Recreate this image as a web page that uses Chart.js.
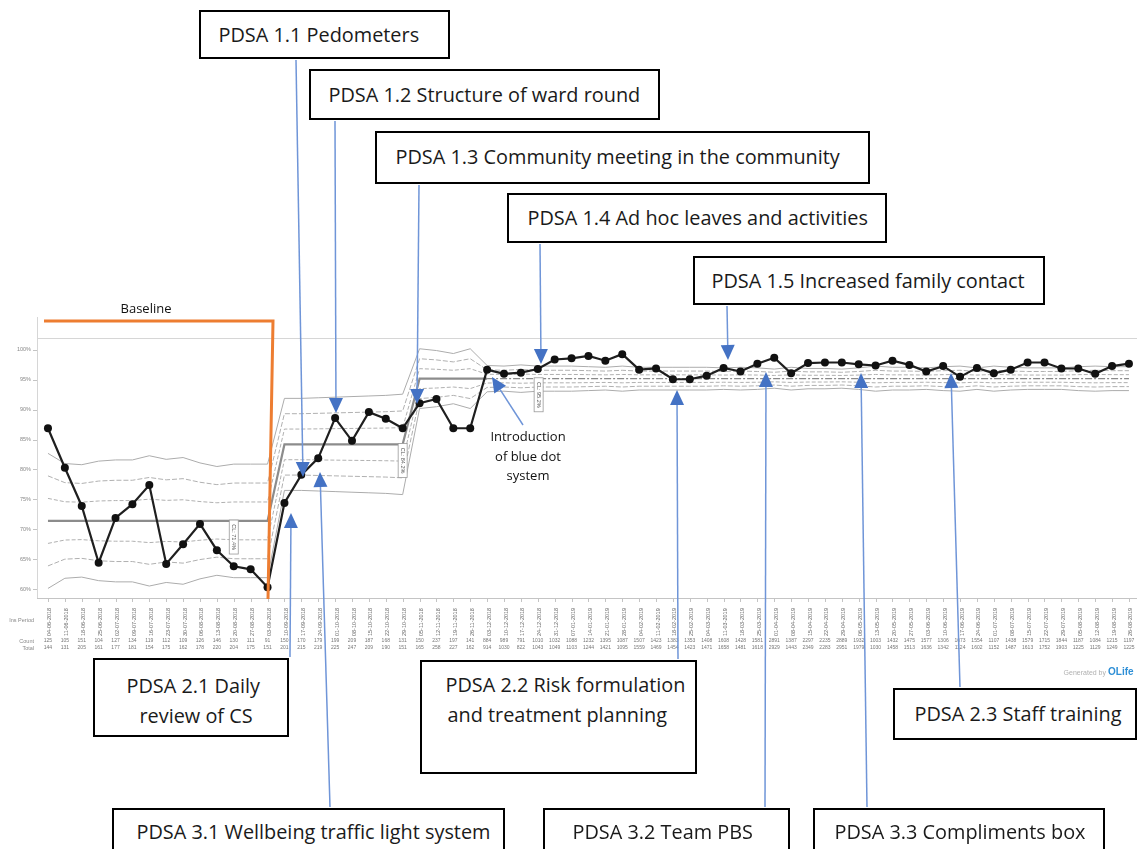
<!DOCTYPE html>
<html><head><meta charset="utf-8">
<script src="https://cdn.jsdelivr.net/npm/chart.js@4"></script>
<style>
html,body{margin:0;padding:0;background:#fff;}
#wrap{position:relative;width:1137px;height:849px;overflow:hidden;background:#fff;}
#c{position:absolute;left:0;top:0;}
.box{position:absolute;border:2.5px solid #000;background:#fff;box-sizing:border-box;}
.box span{position:absolute;white-space:nowrap;font-family:"Open Sans";font-size:18px;line-height:24px;color:#1a1a1a;}
</style></head>
<body><div id="wrap"><canvas id="c" width="1137" height="849"></canvas></div>
<script>
// ---------- data ----------
const periods = ["04-06-2018","11-06-2018","18-06-2018","25-06-2018","02-07-2018","09-07-2018","16-07-2018","23-07-2018","30-07-2018","06-08-2018","13-08-2018","20-08-2018","27-08-2018","03-09-2018","10-09-2018","17-09-2018","24-09-2018","01-10-2018","08-10-2018","15-10-2018","22-10-2018","29-10-2018","05-11-2018","12-11-2018","19-11-2018","26-11-2018","03-12-2018","10-12-2018","17-12-2018","24-12-2018","31-12-2018","07-01-2019","14-01-2019","21-01-2019","28-01-2019","04-02-2019","11-02-2019","18-02-2019","25-02-2019","04-03-2019","11-03-2019","18-03-2019","25-03-2019","01-04-2019","08-04-2019","15-04-2019","22-04-2019","29-04-2019","06-05-2019","13-05-2019","20-05-2019","27-05-2019","03-06-2019","10-06-2019","17-06-2019","24-06-2019","01-07-2019","08-07-2019","15-07-2019","22-07-2019","29-07-2019","05-08-2019","12-08-2019","19-08-2019","26-08-2019"];
const percent = [86.9,80.3,73.9,64.4,71.9,74.2,77.4,64.2,67.5,70.9,66.5,63.8,63.3,60.3,
  74.4,79.1,81.9,88.6,84.8,89.6,88.5,86.9,
  91.1,91.8,86.9,86.9,
  96.7,96.0,96.2,96.8,98.4,98.6,99.0,98.2,99.3,96.7,96.9,95.1,95.1,95.7,97.0,96.4,97.7,98.7,96.1,97.8,97.9,97.9,97.6,97.4,98.2,97.5,96.4,97.3,95.5,97.0,96.1,96.7,97.9,97.9,96.9,96.9,96.0,97.3,97.7];
const centreLine = [71.4,71.4,71.4,71.4,71.4,71.4,71.4,71.4,71.4,71.4,71.4,71.4,71.4,71.4,
  84.2,84.2,84.2,84.2,84.2,84.2,84.2,84.2,
  95.2,95.2,95.2,95.2,95.2,95.2,95.2,95.2,95.2,95.2,95.2,95.2,95.2,95.2,95.2,95.2,95.2,95.2,95.2,95.2,95.2,95.2,95.2,95.2,95.2,95.2,95.2,95.2,95.2,95.2,95.2,95.2,95.2,95.2,95.2,95.2,95.2,95.2,95.2,95.2,95.2,95.2,95.2];
const upperLimit = [82.7,81.0,80.8,81.4,81.6,81.6,82.3,81.7,82.0,81.1,80.5,80.9,80.9,80.9,
  91.9,91.9,92.0,92.1,92.2,92.3,92.4,92.6,
  100.2,99.9,99.4,100.2,
  97.4,97.3,97.5,97.3,97.3,97.3,97.2,97.1,97.3,97.1,97.1,97.1,97.1,97.1,97.0,97.1,97.0,96.8,97.1,96.9,96.9,96.8,97.0,97.3,97.1,97.1,97.0,97.2,97.3,97.0,97.3,97.1,97.0,97.0,97.0,97.2,97.3,97.2,97.2];
const counts = [125,105,151,104,127,134,119,112,109,126,146,130,111,91,150,170,179,199,209,187,168,131,150,237,197,141,884,989,791,1010,1032,1088,1232,1395,1087,1507,1423,1383,1353,1408,1608,1428,1581,2891,1387,2297,2235,2889,1932,1003,1432,1475,1577,1306,1073,1554,1107,1438,1579,1715,1844,1187,1084,1215,1197];
const totals = [144,131,205,161,177,181,154,175,162,178,220,204,175,151,201,215,219,225,247,209,190,151,165,258,227,162,914,1030,822,1043,1049,1103,1244,1421,1095,1559,1469,1454,1423,1471,1658,1481,1618,2929,1443,2349,2283,2951,1979,1030,1458,1513,1636,1342,1124,1602,1152,1487,1613,1752,1903,1225,1129,1249,1225];
const yTickValues = [60,65,70,75,80,85,90,95,100];
const clNotes = [{text:"CL: 71.4%", at:11, v:68.7},{text:"CL: 84.2%", at:21, v:81.5},{text:"CL: 95.2%", at:29.05, v:92.5}];
const narrowFrom = 26; // limits narrow where totals rise

// ---------- annotation boxes ----------
const boxes = [
  {l:199,t:10,w:251,h:49,lines:[["PDSA 1.1 Pedometers",219,35]]},
  {l:309,t:69,w:351,h:51,lines:[["PDSA 1.2 Structure of ward round",329,95]]},
  {l:375,t:131,w:495,h:53,lines:[["PDSA 1.3 Community meeting in the community",396,157]]},
  {l:507,t:193,w:380,h:50,lines:[["PDSA 1.4 Ad hoc leaves and activities",528,218]]},
  {l:693,t:256,w:352,h:49,lines:[["PDSA 1.5 Increased family contact",712,281]]},
  {l:93,t:658,w:196,h:79,lines:[["PDSA 2.1 Daily",127,686],["review of CS",140,716]]},
  {l:420,t:660,w:277,h:114,lines:[["PDSA 2.2 Risk formulation",446,685],["and treatment planning",448,715]]},
  {l:893,t:688,w:244,h:52,lines:[["PDSA 2.3 Staff training",915,714]]},
  {l:112,t:808,w:393,h:60,lines:[["PDSA 3.1 Wellbeing traffic light system",137,832]]},
  {l:543,t:808,w:247,h:60,lines:[["PDSA 3.2 Team PBS",573,832]]},
  {l:813,t:808,w:292,h:60,lines:[["PDSA 3.3 Compliments box",835,832]]}
];
const targetW = [198,307,442,338,314,138,240,208,355,189,248];
const wrap = document.getElementById('wrap');
const firstSpans = [];
boxes.forEach(b=>{
  const d=document.createElement('div');d.className='box';
  d.style.left=b.l+'px';d.style.top=b.t+'px';d.style.width=b.w+'px';d.style.height=b.h+'px';
  b.lines.forEach((ln,k)=>{
    const s=document.createElement('span');s.textContent=ln[0];
    s.style.left=(ln[1]-b.l-2.5)+'px';s.style.top=(ln[2]-b.t-2.5-12)+'px';
    d.appendChild(s); if(k===0) firstSpans.push(s);
  });
  wrap.appendChild(d);
});
let sumT=0,sumM=0;firstSpans.forEach((s,i)=>{sumT+=targetW[i];sumM+=s.getBoundingClientRect().width;});
const fs=(18*sumT/sumM).toFixed(2);
document.querySelectorAll('.box span').forEach(s=>s.style.fontSize=fs+'px');

// arrows [fromX, fromY, tipX, tipY]
const arrows = [[296,60,303,477],[335,121,336,413],[419,185,417,404],[540,244,541,364],[727,306,728,360],
  [290,657,291,513],[330,807,320,472],[678,659,677,390],[765,807,766,372],[867,807,861,373],[960,687,951,373],[523,425,492,377]];

const pts = a => a.map((v,i)=>({x:i,y:v}));
// sigma bands between the read centre line and read upper limit
const band = k => centreLine.map((c,i)=>({x:i,y:c+(upperLimit[i]-c)*k/3}));

const deco = {
  id:'deco',
  beforeDatasetsDraw(chart){
    const ctx=chart.ctx, xs=chart.scales.x, ys=chart.scales.y, a=chart.chartArea;
    ctx.save();
    ctx.strokeStyle='#d6d6d6';ctx.lineWidth=1;
    ctx.beginPath();ctx.moveTo(37,a.top+0.5);ctx.lineTo(1137,a.top+0.5);ctx.stroke();
    ctx.beginPath();ctx.moveTo(37.5,317);ctx.lineTo(37.5,a.bottom);ctx.stroke();
    ctx.strokeStyle='#c4c4c4';
    ctx.beginPath();ctx.moveTo(37,a.bottom+0.5);ctx.lineTo(1137,a.bottom+0.5);ctx.stroke();
    // y ticks
    ctx.fillStyle='#888';ctx.font='5.5px "Liberation Sans"';ctx.textAlign='right';ctx.textBaseline='middle';
    yTickValues.forEach(v=>{const y=ys.getPixelForValue(v);ctx.fillText(v+'%',31,y);
      ctx.beginPath();ctx.moveTo(33,Math.round(y)+0.5);ctx.lineTo(37,Math.round(y)+0.5);ctx.stroke();});
    // x ticks / labels / rows
    periods.forEach((p,i)=>{
      const x=xs.getPixelForValue(i);
      ctx.strokeStyle='#c4c4c4';ctx.beginPath();ctx.moveTo(Math.round(x)+0.5,a.bottom);ctx.lineTo(Math.round(x)+0.5,a.bottom+4);ctx.stroke();
      ctx.save();ctx.translate(x+2,636);ctx.rotate(-Math.PI/2);ctx.textAlign='left';ctx.fillStyle='#666';ctx.font='5.5px "Liberation Sans"';
      ctx.fillText(p,0,0);ctx.restore();
      ctx.fillStyle='#777';ctx.font='5px "Liberation Sans"';ctx.textAlign='center';
      ctx.fillText(String(counts[i]),x,641);ctx.fillText(String(totals[i]),x,648);
    });
    ctx.textAlign='right';ctx.fillStyle='#888';ctx.font='5.5px "Liberation Sans"';
    ctx.fillText('Ins Period',34,620);ctx.fillText('Count',34,641);ctx.fillText('Total',34,648);
    // generated by
    ctx.textAlign='right';ctx.fillStyle='#b0b0b0';ctx.font='7px "Liberation Sans"';ctx.fillText('Generated by',1106,673);
    ctx.fillStyle='#2e8fd6';ctx.font='bold 10px "Liberation Sans"';ctx.textAlign='left';ctx.fillText('OLife',1108,672);
    ctx.restore();
  },
  afterDraw(chart){
    const ctx=chart.ctx, xs=chart.scales.x, ys=chart.scales.y;
    ctx.save();
    // CL notes
    clNotes.forEach(n=>{
      const x=xs.getPixelForValue(n.at), y=ys.getPixelForValue(n.v);
      ctx.save();ctx.translate(x,y);ctx.rotate(Math.PI/2);
      ctx.fillStyle='#fff';ctx.fillRect(-17,-4.5,34,9);ctx.strokeStyle='#999';ctx.lineWidth=0.8;ctx.strokeRect(-17,-4.5,34,9);
      ctx.fillStyle='#555';ctx.font='5.5px "Liberation Sans"';ctx.textAlign='center';ctx.textBaseline='middle';ctx.fillText(n.text,0,0.5);
      ctx.restore();
    });
    // baseline bracket
    ctx.strokeStyle='#ED7D31';ctx.lineWidth=3;ctx.lineJoin='miter';
    ctx.beginPath();ctx.moveTo(44,321);ctx.lineTo(273,321);ctx.lineTo(268,599);ctx.stroke();
    ctx.fillStyle='#111';ctx.font='13px "Open Sans"';ctx.textAlign='center';ctx.textBaseline='middle';
    ctx.fillText('Baseline',146,309);
    ctx.fillText('Introduction',528,437);ctx.fillText('of blue dot',528,457);ctx.fillText('system',528,476);
    // arrows
    arrows.forEach(([x1,y1,x2,y2])=>{
      const ang=Math.atan2(y2-y1,x2-x1), L=15, W=7;
      const bx=x2-L*Math.cos(ang), by=y2-L*Math.sin(ang);
      ctx.strokeStyle='#6f95d8';ctx.lineWidth=1.5;
      ctx.beginPath();ctx.moveTo(x1,y1);ctx.lineTo(bx,by);ctx.stroke();
      ctx.fillStyle='#4472C4';ctx.beginPath();ctx.moveTo(x2,y2);
      ctx.lineTo(bx+W*Math.sin(ang),by-W*Math.cos(ang));ctx.lineTo(bx-W*Math.sin(ang),by+W*Math.cos(ang));ctx.closePath();ctx.fill();
    });
    ctx.restore();
  }
};

const lim = (k,color,dash,w)=>({data:band(k),borderColor:color,borderWidth:w,borderDash:dash,pointRadius:0,order:2,tension:0});
new Chart(document.getElementById('c'),{
  type:'line',
  data:{datasets:[
    {data:pts(percent),borderColor:'#1f1f1f',borderWidth:2.2,pointRadius:4,pointBackgroundColor:'#111',pointBorderColor:'#111',pointBorderWidth:0,order:0,tension:0},
    {data:pts(centreLine),borderColor:'#8c8c8c',borderWidth:2.2,pointRadius:0,order:1,tension:0,
     segment:{
       borderDash: c => c.p0DataIndex>=narrowFrom ? [7,2,2,2] : undefined,
       borderWidth: c => c.p0DataIndex>=narrowFrom ? 1.3 : undefined,
       borderColor: c => c.p0DataIndex>=narrowFrom ? '#8a8a8a' : undefined
     }},
    lim(3,'#acacac',[],1), lim(-3,'#acacac',[],1),
    lim(2,'#b0b0b0',[5,2],1), lim(-2,'#b0b0b0',[5,2],1),
    lim(1,'#b0b0b0',[4,2],1), lim(-1,'#b0b0b0',[4,2],1)
  ]},
  options:{
    responsive:false,animation:false,devicePixelRatio:1,
    layout:{padding:{left:38,right:0,top:338,bottom:251}},
    scales:{
      x:{type:'linear',min:-0.59,max:64.24,display:false},
      y:{min:58.5,max:102,display:false}
    },
    plugins:{legend:{display:false},tooltip:{enabled:false}}
  },
  plugins:[deco]
});
</script></body></html>
